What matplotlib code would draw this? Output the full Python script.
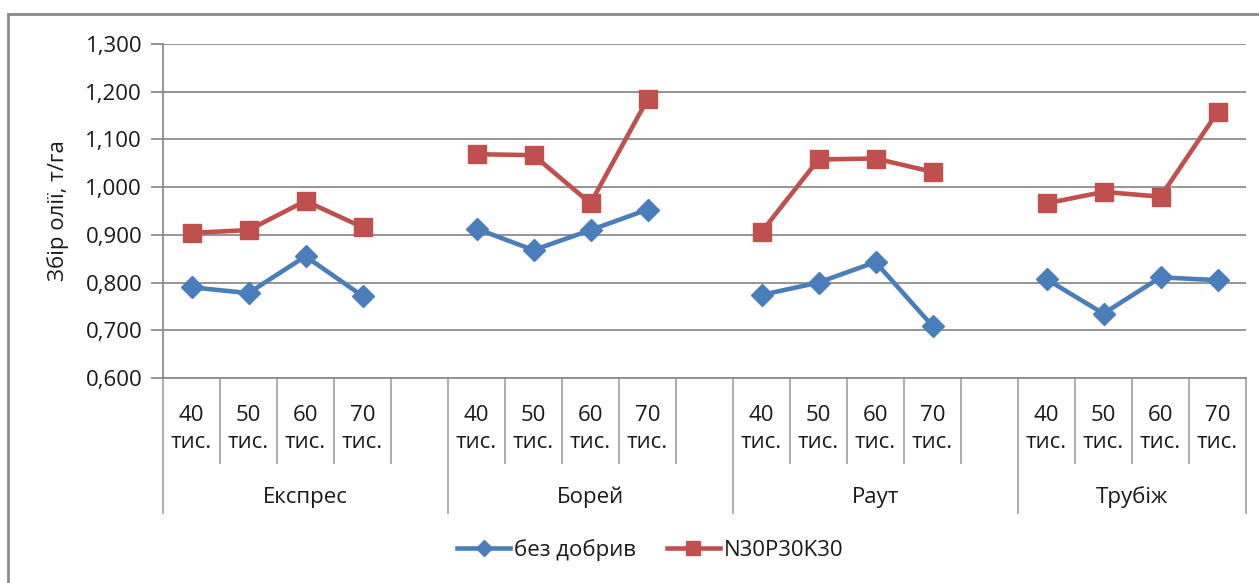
import numpy as np
import matplotlib.pyplot as plt
from matplotlib.patches import Rectangle

plt.rcParams['font.family'] = ['Open Sans', 'DejaVu Sans']
plt.rcParams['font.size'] = 16

varieties = ['Експрес', 'Борей', 'Раут', 'Трубіж']
densities = ['40\nтис.', '50\nтис.', '60\nтис.', '70\nтис.']

# oil yield, t/ha: rows = varieties, cols = plant density
no_fert = [[0.790, 0.778, 0.855, 0.772],
           [0.913, 0.868, 0.910, 0.953],
           [0.774, 0.800, 0.843, 0.709],
           [0.807, 0.735, 0.811, 0.805]]
npk = [[0.904, 0.910, 0.971, 0.916],
       [1.069, 1.067, 0.966, 1.184],
       [0.906, 1.058, 1.060, 1.032],
       [0.966, 0.990, 0.980, 1.157]]

yticks = [0.6, 0.7, 0.8, 0.9, 1.0, 1.1, 1.2, 1.3]

W, H = 1259, 583
fig = plt.figure(figsize=(W / 100, H / 100), dpi=100)
ax = fig.add_axes([163 / W, 1 - 378 / H, (1246 - 163) / W, (378 - 44) / H])

blue = '#4a7ebb'
red = '#c0504d'
grid_c = '#8c8c8c'
txt_c = '#1a1a1a'

# chart border (top and left only visible)
fig.patches.append(Rectangle((8 / W, -0.1), 1.2, 1.1 - 14 / H, transform=fig.transFigure,
                             fill=False, edgecolor='#8a8a8a', lw=2))

n_slots = 5 * len(varieties) - 1
for g in range(len(varieties)):
    x = [g * 5 + j + 0.5 for j in range(len(densities))]
    l1, = ax.plot(x, no_fert[g], color=blue, lw=3.3, marker='D', ms=11,
                  mfc=blue, mec=blue, zorder=3)
    l2, = ax.plot(x, npk[g], color=red, lw=3.3, marker='s', ms=13.5,
                  mfc=red, mec=red, zorder=4)

ax.set_xlim(0, n_slots)
ax.set_ylim(0.6, 1.3)
ax.set_yticks(yticks)
ax.set_yticklabels([f'{v:.3f}'.replace('.', ',') for v in yticks])
ax.yaxis.grid(True, color=grid_c, lw=1.3)
ax.set_axisbelow(True)
ax.set_xticks([])
for s in ['top', 'right']:
    ax.spines[s].set_visible(False)
ax.spines['left'].set_color(grid_c)
ax.spines['bottom'].set_color(grid_c)
ax.spines['left'].set_linewidth(1.3)
ax.spines['bottom'].set_linewidth(1.3)
ax.tick_params(axis='y', length=9, color=grid_c, width=1.3, pad=6, labelcolor=txt_c)

ax.set_ylabel('Збір олії, т/га', fontsize=16, labelpad=12, color=txt_c)

# two-level category axis
tr = ax.get_xaxis_transform()
inner_y = -(463 - 378) / 334
outer_y = -(513 - 378) / 334
for k in range(n_slots + 1):
    full = (k % 5 == 0) or k == n_slots
    ax.plot([k, k], [0, outer_y if full else inner_y], transform=tr,
            color='#a6a6a6', lw=1.3, clip_on=False)
for g, name in enumerate(varieties):
    for j, d in enumerate(densities):
        ax.text(g * 5 + j + 0.5, -(429 - 378) / 334, d, transform=tr,
                ha='center', va='center', fontsize=16, linespacing=1.4,
                color=txt_c)
    ax.text(g * 5 + 2.5 if g < 3 else g * 5 + 2.0, -(497 - 378) / 334, name,
            transform=tr, ha='center', va='center', fontsize=16, color=txt_c)

fig.legend([l1, l2], ['без добрив', 'N30P30K30'], loc='center',
           bbox_to_anchor=(650 / W, 1 - 550 / H), ncol=2, frameon=False,
           handlelength=2.4, handletextpad=0.15, columnspacing=1.4, fontsize=16,
           markerscale=0.7, labelcolor=txt_c)

fig.savefig('out.png', dpi=100)
